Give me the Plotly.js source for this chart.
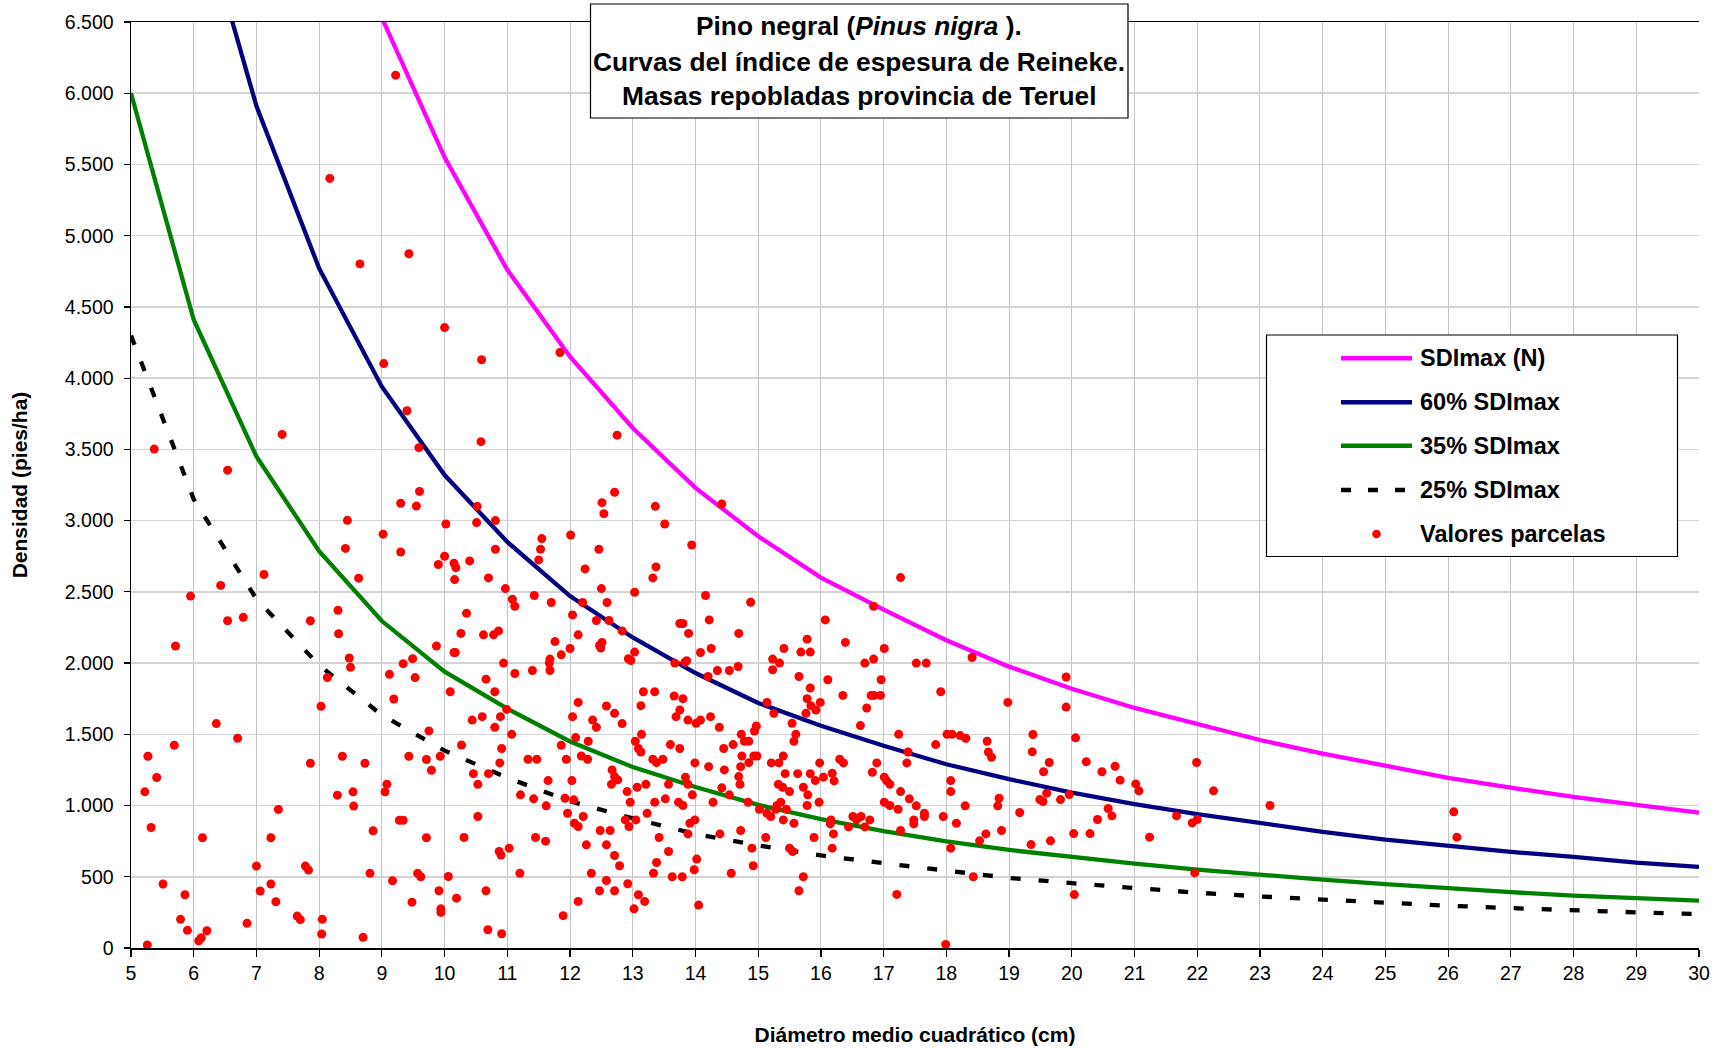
<!DOCTYPE html>
<html>
<head>
<meta charset="utf-8">
<script src="https://cdn.plot.ly/plotly-3.0.1.min.js"></script>
<style>html,body{margin:0;padding:0;background:#fff;}#chart{width:1727px;height:1048px;}</style>
</head>
<body>
<div id="chart"></div>
<script>
// ---- curve data (diameter in cm -> density in pies/ha) ----
const dSDImax = [9,10,11,12,13,14,15,16,17,18,19,20,21,22,23,24,25,26,27,28,29,30];
const nSDImax = [6530,5550,4760,4150,3650,3230,2890,2600,2375,2160,1975,1820,1685,1570,1460,1365,1280,1195,1125,1060,1005,950];

const d60 = [6,7,8,9,10,11,12,13,14,15,16,17,18,19,20,21,22,23,24,25,26,27,28,29,30];
const n60 = [7450,5910,4770,3940,3320,2850,2470,2180,1930,1720,1560,1420,1290,1185,1090,1010,940,875,815,760,715,675,640,600,570];

const d35 = [5,6,7,8,9,10,11,12,13,14,15,16,17,18,19,20,21,22,23,24,25,26,27,28,29,30];
const n35 = [6000,4410,3450,2785,2295,1940,1680,1450,1270,1130,1005,905,820,748,688,638,593,550,513,480,448,418,392,368,350,333];

const d25 = [5,6,7,8,9,10,11,12,13,14,15,16,17,18,19,20,21,22,23,24,25,26,27,28,29,30];
const n25 = [4300,3150,2450,1985,1635,1385,1195,1030,910,800,720,650,595,540,492,455,420,388,362,338,317,297,280,263,250,238];

// ---- plot values (Dg cm, N pies/ha) ----
const plotD = [
5.26,5.22,5.27,5.41,5.32,5.69,5.71,5.95,5.51,5.86,5.79,5.90,6.08,6.12,6.21,6.14,6.36,6.70,6.43,6.54,6.79,7.12,6.85,7.00,7.06,7.23,7.31,7.23,7.35,7.65,7.70,7.78,7.83,8.05,8.04,7.86,8.03,7.86,8.13,8.30,8.31,8.63,8.48,8.50,8.37,8.73,8.54,8.29,8.55,8.86,8.81,8.70,9.17,9.48,9.57,9.62,9.71,9.28,9.34,9.05,9.08,9.43,9.71,9.79,9.93,9.75,9.19,9.12,9.34,9.49,9.53,9.87,9.90,
9.22,8.17,8.65,9.43,10.0,9.03,9.40,9.59,7.41,5.37,6.54,9.60,9.30,9.55,8.45,9.02,8.42,9.30,
10.59,11.84,
10.58,12.75,12.71,12.51,12.54,10.52,10.51,10.81,10.02,12.01,11.55,11.53,10.81,12.46,10.0,10.15,10.18,10.40,11.50,10.16,10.70,12.24,10.97,12.50,13.03,11.08,11.12,11.43,11.70,12.20,12.59,10.35,12.04,12.42,12.62,12.83,10.26,10.62,10.78,10.86,10.15,10.17,12.13,11.76,12.47,12.51,12.49,12.0,11.86,11.68,11.67,11.68,10.94,11.12,11.40,10.66,12.93,12.97,13.03,
10.09,10.80,10.99,10.44,10.60,10.89,10.80,11.07,12.13,12.04,12.58,12.71,12.36,12.42,12.83,12.09,11.86,12.29,12.18,12.28,11.94,11.33,11.47,10.27,10.91,10.88,10.46,10.70,10.53,11.65,12.03,12.67,12.71,12.76,12.66,12.91,13.07,12.96,11.21,11.42,11.92,12.06,11.62,11.96,12.21,12.07,12.13,10.53,12.88,12.94,13.05,12.48,12.64,12.58,11.45,11.61,12.26,12.71,12.79,10.31,10.87,10.90,11.03,11.20,12.34,12.58,12.47,12.71,12.92,13.09,13.02,12.13,11.89,10.06,9.91,10.19,9.94,9.94,10.66,10.69,10.91,
14.42,13.36,13.51,13.94,13.37,13.32,14.16,14.88,13.75,13.80,13.89,14.22,14.69,16.07,15.78,15.41,15.68,15.83,15.23,15.34,15.23,15.65,16.11,14.25,14.08,13.67,13.83,13.86,14.20,14.35,14.54,14.68,
15.83,13.17,13.35,13.13,13.66,13.80,13.75,13.69,13.88,14.01,14.08,14.24,14.38,13.14,13.04,13.09,13.13,13.60,13.75,13.32,13.38,13.48,13.99,14.21,14.45,14.60,14.46,14.73,14.78,14.85,14.94,14.97,14.74,14.72,14.85,14.93,14.98,14.69,14.71,15.14,15.25,15.54,15.60,15.57,15.78,15.84,15.92,15.99,15.76,15.21,15.33,15.40,15.43,15.63,15.83,15.91,15.98,16.04,15.32,15.39,15.50,15.72,15.79,15.78,15.97,15.36,15.30,15.28,15.45,15.14,15.20,15.02,14.84,14.54,14.42,14.28,13.95,13.88,13.84,13.57,13.52,13.35,13.21,13.73,13.80,13.23,13.91,13.99,13.88,13.42,14.39,14.72,15.40,15.57,15.12,14.90,15.50,15.55,15.89,13.57,13.38,13.33,13.63,13.79,14.02,13.98,14.57,14.92,15.72,15.65,13.19,14.05,
17.27,16.84,16.39,17.01,16.84,16.70,17.52,17.68,18.41,16.96,
16.35,16.80,16.85,16.95,16.73,16.63,17.91,18.98,17.24,17.39,17.37,17.83,18.01,18.09,18.22,18.31,18.65,18.67,18.72,16.18,16.21,16.30,16.36,16.89,16.82,17.01,17.05,17.10,17.27,17.41,17.52,17.23,17.01,17.10,17.65,17.65,17.48,17.48,17.95,18.16,18.30,18.07,18.07,18.84,18.82,18.88,18.63,18.53,18.07,17.27,16.16,16.15,16.20,16.18,16.44,16.51,16.57,16.64,16.70,16.78,18.43,17.21,17.99,
19.91,19.91,19.38,20.06,19.37,19.64,19.55,20.23,20.48,20.69,20.77,21.02,21.07,21.99,22.26,23.16,26.09,26.14,19.60,19.49,19.54,19.82,19.96,19.17,20.58,20.64,20.41,20.03,20.29,19.66,19.35,21.24,21.67,21.92,22.00,21.96,20.04
];
const plotN = [
21,1096,1346,1197,846,1423,2120,2470,449,374,201,124,51,72,121,774,1575,1472,2545,2297,2321,2622,173,575,400,449,325,774,972,224,199,575,547,201,98,1297,1697,2297,1898,2370,2206,2596,2036,1970,1346,1297,1096,1073,996,823,524,75,472,322,524,500,774,897,897,1096,1150,1346,1323,1248,1346,1524,1748,1921,1996,2031,1898,2120,2692,
6127,5402,4802,4873,4355,4102,3771,3512,3605,3502,3354,3205,3122,3102,3002,2905,2805,2780,
4129,4180,
3554,3600,3199,3126,3049,3100,2986,3000,2976,2899,2874,2799,2799,2799,2750,2701,2670,2717,2724,2586,2598,2661,2523,2523,2497,2448,2399,2474,2425,2425,2425,2350,2338,2299,2299,2226,2208,2198,2198,2226,2074,2074,2198,2151,2124,2145,2105,2102,2058,2028,2000,1948,2000,1927,1948,1887,2030,2018,2077,
1799,1799,1675,1600,1624,1624,1549,1500,1724,1624,1699,1647,1600,1549,1575,1477,1423,1451,1348,1325,1325,1325,1325,1425,1400,1299,1224,1224,1149,1175,1175,1250,1203,1180,1149,1098,1128,1023,1075,1047,1051,1040,998,946,923,876,853,923,899,853,899,825,825,724,776,750,724,649,577,776,677,652,701,525,525,474,402,402,451,374,275,327,227,502,402,350,275,250,402,128,100,
3117,3100,2976,2829,2675,2598,2474,2427,2278,2278,2208,2303,2208,2303,2168,2102,2077,2077,2028,2000,1953,1906,1883,2102,2074,2000,2005,2016,1906,1948,1948,1976,
1825,1799,1799,1701,1769,1750,1671,1624,1600,1577,1600,1624,1549,1500,1451,1400,1376,1428,1400,1325,1301,1325,1299,1273,1400,1428,1250,1500,1451,1451,1523,1558,1348,1273,1301,1348,1348,1203,1149,1724,1647,1577,1500,1451,1750,1701,1671,1724,1647,1299,1299,1348,1224,1224,1224,1175,1299,1199,1149,1128,1098,1128,1075,1000,1023,1023,1000,974,974,946,923,974,1023,1075,1124,1023,1075,1149,1199,1149,1047,1023,1149,1023,1000,946,876,899,801,776,801,825,899,876,776,701,701,677,776,677,600,525,500,500,624,549,525,577,500,402,327,301,
2600,2399,2145,2102,2028,2000,2000,2000,2039,1883,
1773,1773,1773,1773,1685,1561,1799,1724,1500,1376,1299,1428,1500,1500,1491,1472,1451,1376,1339,1227,1173,1325,1299,1299,1234,1199,1173,1149,1098,1047,998,974,1023,1000,946,923,899,871,923,876,998,1175,1098,1051,998,825,801,752,701,825,899,871,801,701,850,923,899,923,850,899,500,376,25,
1902,1691,1499,1475,1377,1302,1237,1307,1237,1276,1178,1152,1103,1302,1103,1000,956,778,1087,1042,1028,1042,1077,951,979,927,902,803,803,752,726,778,927,878,902,527,375
];

// ---- labels ----
const titleLines = ['<b>Pino negral (<i>Pinus nigra</i> ).</b>','<b>Curvas del índice de espesura de Reineke.</b>','<b>Masas repobladas provincia de Teruel</b>'];
const seriesNames = ['SDImax (N)','60% SDImax','35% SDImax','25% SDImax','Valores parcelas'];
const xTitle = 'Diámetro medio cuadrático (cm)';
const yTitle = 'Densidad (pies/ha)';

const FONT = 'Liberation Sans, Arial, sans-serif';
const W = 1727, H = 1048;
const ML = 131, MR = 28, MT = 22, MB = 100;
const PW = W - ML - MR, PH = H - MT - MB;
const px = x => (x - ML) / PW;
const py = y => (H - MB - y) / PH;

const colors = ['#ff00ff','#000080','#008000','#000000','#ff0000'];

const traces = [
  {x:d25, y:n25, mode:'lines', name:seriesNames[3], line:{color:colors[3], width:4.3, dash:'10px,18px'}},
  {x:d35, y:n35, mode:'lines', name:seriesNames[2], line:{color:colors[2], width:4.3}},
  {x:d60, y:n60, mode:'lines', name:seriesNames[1], line:{color:colors[1], width:4.3}},
  {x:dSDImax, y:nSDImax, mode:'lines', name:seriesNames[0], line:{color:colors[0], width:4.3}},
  {x:plotD, y:plotN, mode:'markers', name:seriesNames[4], marker:{color:colors[4], size:9}, cliponaxis:false}
];

// legend & title box built as overlay items
const shapes = [
  {type:'rect', xref:'paper', yref:'paper', x0:px(590.5), x1:px(1128), y0:py(118), y1:py(4), line:{color:'#000', width:1.2}, fillcolor:'#fff', layer:'above'},
  {type:'rect', xref:'paper', yref:'paper', x0:px(1266.5), x1:px(1677.5), y0:py(556.5), y1:py(335), line:{color:'#000', width:1.2}, fillcolor:'#fff', layer:'above'}
];
const legY = [358.3, 402.3, 445.7, 490, 534];
const legStyles = [
  {color:colors[0], width:4.5, dash:'solid'},
  {color:colors[1], width:4.5, dash:'solid'},
  {color:colors[2], width:4.5, dash:'solid'},
  {color:colors[3], width:4.5, dash:'10px,17px'}
];
for (let i = 0; i < 4; i++) {
  shapes.push({type:'line', xref:'paper', yref:'paper', x0:px(1341), x1:px(1412), y0:py(legY[i]), y1:py(legY[i]), line:legStyles[i], layer:'above'});
}
shapes.push({type:'circle', xref:'paper', yref:'paper', xsizemode:'pixel', ysizemode:'pixel', xanchor:px(1376.5), yanchor:py(legY[4]), x0:-4.3, x1:4.3, y0:-4.3, y1:4.3, fillcolor:colors[4], line:{color:colors[4], width:0}, layer:'above'});

const annotations = [];
const titleY = [26.4, 61.7, 95.8];
for (let i = 0; i < 3; i++) {
  annotations.push({xref:'paper', yref:'paper', x:px(859.3), y:py(titleY[i]), xanchor:'center', yanchor:'middle', text:titleLines[i], showarrow:false, font:{family:FONT, size:26.3, color:'#000'}});
}
for (let i = 0; i < 5; i++) {
  annotations.push({xref:'paper', yref:'paper', x:px(1418), y:py(legY[i]), xanchor:'left', yanchor:'middle', text:'<b>' + seriesNames[i] + '</b>', showarrow:false, font:{family:FONT, size:23.5, color:'#000'}});
}

const layout = {
  width: W, height: H,
  margin: {l:ML, r:MR, t:MT, b:MB},
  paper_bgcolor:'#fff', plot_bgcolor:'#fff',
  separators: ',.',
  showlegend: false,
  font: {family: FONT, color:'#000'},
  xaxis: {
    range:[5,30], dtick:1, tick0:5, autorange:false,
    showgrid:true, gridcolor:'#c4c4c4', gridwidth:1,
    showline:true, linecolor:'#000', linewidth:1.5, mirror:true,
    ticks:'outside', ticklen:7, tickcolor:'#000', tickwidth:1.2,
    tickfont:{family:FONT, size:19.5, color:'#000'},
    zeroline:false,
    title:{text:'<b>' + xTitle + '</b>', font:{family:FONT, size:21, color:'#000'}, standoff:44}
  },
  yaxis: {
    range:[0,6500], dtick:500, tick0:0, autorange:false,
    tickformat:',d',
    showgrid:true, gridcolor:'#d4d4d4', gridwidth:1.6,
    showline:true, linecolor:'#000', linewidth:1.5,
    ticks:'outside', ticklen:6, tickcolor:'#000', tickwidth:1.2,
    ticklabelstandoff:6,
    tickfont:{family:FONT, size:19.5, color:'#000'},
    zeroline:false,
    title:{text:'<b>' + yTitle + '</b>', font:{family:FONT, size:21, color:'#000'}, standoff:31}
  },
  shapes: shapes,
  annotations: annotations
};

Plotly.newPlot('chart', traces, layout, {displayModeBar:false, staticPlot:true});
</script>
</body>
</html>
